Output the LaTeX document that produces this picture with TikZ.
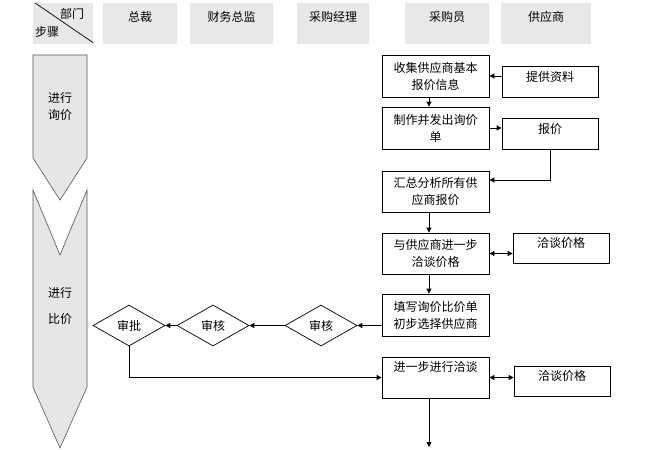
\documentclass[tikz,border=0pt]{standalone}
\usepackage{fontspec}
\setmainfont{Noto Sans CJK SC}
\usetikzlibrary{shapes.geometric,arrows.meta,calc}
\definecolor{hdrgray}{HTML}{E8E8E8}
\definecolor{arrgray}{HTML}{E6E6E6}
\definecolor{edgegray}{HTML}{555555}
\tikzset{
  txt/.style={font=\fontsize{12}{17}\selectfont, inner sep=0pt, align=center},
  hdr/.style={fill=hdrgray, draw=none, inner sep=0pt, minimum height=41pt},
  box/.style={draw, line width=0.8pt, fill=white, minimum width=107pt, minimum height=42pt,
              inner sep=0pt, align=center, font=\fontsize{12}{17}\selectfont},
  sbox/.style={draw, line width=0.8pt, fill=white, minimum width=96pt, minimum height=31pt, inner sep=0pt},
  dia/.style={diamond, draw, line width=0.7pt, fill=white, minimum width=72pt, minimum height=41pt,
              inner sep=0pt, aspect=1.75, font=\fontsize{12}{17}\selectfont},
  lane/.style={draw=edgegray, fill=arrgray, line width=0.6pt, line join=miter},
  arr/.style={line width=0.8pt, -{Triangle[length=5pt,width=5pt]}},
  arrs/.style={line width=0.8pt, {Triangle[length=5pt,width=5pt]}-{Triangle[length=5pt,width=5pt]}}
}
\begin{document}
\begin{tikzpicture}[x=1pt,y=-1pt]
\useasboundingbox[fill=white] (0,0) rectangle (667,450);

% header row
\node[hdr, minimum width=60pt] (h0) at (63,23.5) {};
\draw[line width=0.7pt] ([xshift=2pt]h0.north west) -- ([yshift=1.5pt]h0.south east);
\node[txt] (h0a) at (72,14) {部门};
\node[txt] (h0b) at (47,32) {步骤};
\node[hdr, minimum width=74pt] (h1) at (140,23.5) {};
\node[txt] (h1t) at (140,17) {总裁};
\node[hdr, minimum width=83pt] (h2) at (231.5,23.5) {};
\node[txt] (h2t) at (231.5,17) {财务总监};
\node[hdr, minimum width=72pt] (h3) at (333,23.5) {};
\node[txt] (h3t) at (333,17) {采购经理};
\node[hdr, minimum width=84pt] (h4) at (447,23.5) {};
\node[txt] (h4t) at (447,17) {采购员};
\node[hdr, minimum width=90pt] (h5) at (546,23.5) {};
\node[txt] (h5t) at (546,17) {供应商};

% stage arrows
\draw[lane] (33,55) -- (87,55) -- (87,158) -- (60,200) -- (33,158) -- cycle;
\node[txt] (l1a) at (60,98) {进行};
\node[txt] (l1b) at (60,115) {询价};
\draw[lane] (33,190) -- (60,255) -- (87,190) -- (87,387) -- (60,448) -- (33,387) -- cycle;
\node[txt] (l2a) at (60,293) {进行};
\node[txt] (l2b) at (60,319) {比价};

% buyer column
\node[box] (b1) at (435.5,76) {收集供应商基本\\报价信息};
\node[box] (b2) at (435.5,128) {制作并发出询价\\单};
\node[box, minimum height=41pt] (b3) at (435.5,191.5) {汇总分析所有供\\应商报价};
\node[box, minimum height=41pt] (b4) at (435.5,253.5) {与供应商进一步\\洽谈价格};
\node[box] (b5) at (435.5,315) {填写询价比价单\\初步选择供应商};
\node[box, minimum height=41pt] (b6) at (435.5,377.5) {};
\node[txt] (b6t) at (435.5,367) {进一步进行洽谈};

% supplier column
\node[sbox] (s1) at (550,81.5) {};
\node[txt] (s1t) at (550,77) {提供资料};
\node[sbox] (s2) at (550,133.5) {};
\node[txt] (s2t) at (550,129) {报价};
\node[sbox, minimum height=30pt] (s3) at (561,248) {};
\node[txt] (s3t) at (561,243) {洽谈价格};
\node[sbox, minimum height=30pt] (s4) at (562,381) {};
\node[txt] (s4t) at (562,376) {洽谈价格};

% approval diamonds
\node[dia] (d1) at (129,325.5) {审批};
\node[dia] (d2) at (213,325.5) {审核};
\node[dia] (d3) at (321,325.5) {审核};

% connectors
\draw[arr] ([xshift=-6.5pt]b1.south) -- ([xshift=-6.5pt]b2.north);
\draw[arr] ([xshift=-6.5pt]b3.south) -- ([xshift=-6.5pt]b4.north);
\draw[arr] ([xshift=-6.5pt]b4.south) -- ([xshift=-6.5pt]b5.north);
\draw[arr] (s1.west |- b1.east) -- (b1.east);
\draw[arr] (b2.east) -- (s2.west |- b2.east);
\draw[arr] (s2.south) |- ([yshift=11.5pt]b3.east);
\draw[arrs] (b4.east) -- (s3.west |- b4.east);
\draw[arr] (b5.west |- d3.east) -- (d3.east);
\draw[arr] (d3.west) -- (d2.east);
\draw[arr] (d2.west) -- (d1.east);
\draw[arr] (d1.south) |- (b6.west);
\draw[arrs] (b6.east) -- (s4.west |- b6.east);
\coordinate (end) at (429,447);
\draw[arr] ([xshift=-6.5pt]b6.south) -- (end);
\end{tikzpicture}
\end{document}
